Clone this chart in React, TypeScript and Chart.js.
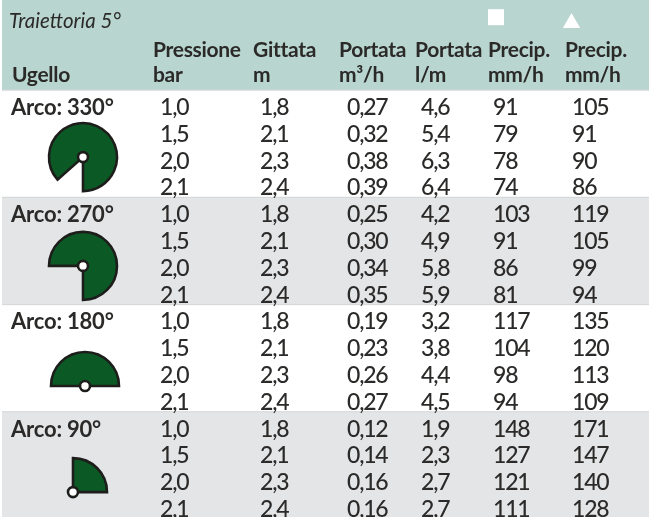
import React, { useEffect, useRef } from "react";
import { Chart, registerables, ArcElement } from "chart.js";

Chart.register(...registerables);

const arcLabels = ["Arco: 330°", "Arco: 270°", "Arco: 180°", "Arco: 90°"];
const arcSweep = [311.5, 270, 180, 90];
const arcStart = [138.5, 180, 180, -90];
const pressure = [1.0, 1.5, 2.0, 2.1, 1.0, 1.5, 2.0, 2.1, 1.0, 1.5, 2.0, 2.1, 1.0, 1.5, 2.0, 2.1];
const range = [1.8, 2.1, 2.3, 2.4, 1.8, 2.1, 2.3, 2.4, 1.8, 2.1, 2.3, 2.4, 1.8, 2.1, 2.3, 2.4];
const flowM3 = [0.27, 0.32, 0.38, 0.39, 0.25, 0.30, 0.34, 0.35, 0.19, 0.23, 0.26, 0.27, 0.12, 0.14, 0.16, 0.16];
const flowL = [4.6, 5.4, 6.3, 6.4, 4.2, 4.9, 5.8, 5.9, 3.2, 3.8, 4.4, 4.5, 1.9, 2.3, 2.7, 2.7];
const precipSquare = [91, 79, 78, 74, 103, 91, 86, 81, 117, 104, 98, 94, 148, 127, 121, 111];
const precipTriangle = [105, 91, 90, 86, 119, 105, 99, 94, 135, 120, 113, 109, 171, 147, 140, 128];
const headerTop = ["Pressione", "Gittata", "Portata", "Portata", "Precip.", "Precip."];
const headerUnits = ["bar", "m", "m³/h", "l/m", "mm/h", "mm/h"];

const FAMILY = "Lato, 'Noto Sans', sans-serif";
const TEXT = "#2b2a29";
const GREEN = "#0b5a25";
const HEADER_BG = "#b8d6cf";
const BAND_BG = "#e4e5e7";
const RULE = "#d8d9db";

const colX = [160, 260, 347, 421, 493, 572];
const headX = [153, 253, 339, 415, 488, 565];
const hubX = [83, 83, 85, 73];
const hubRow = [1.57, 5.63, 10.11, 14.07];
const groupTop = (g: number) => 4 * g - 0.93;
const Y_MIN = -4.291;
const Y_MAX = 15;

const dec = (d: number) => (v: number) => v.toFixed(d).replace(".", ",");
const numberColumn = (vals: number[], col: number, fmt: (v: number) => string) => ({
  type: "scatter",
  data: vals.map((_, i) => ({ x: colX[col], y: i })),
  tableText: vals.map(fmt),
  font: `500 23px ${FAMILY}`,
  spacing: -1.2,
  pointRadius: 0,
});

const tablePlugin = {
  id: "table",
  beforeDatasetsDraw(chart: any) {
    const { ctx, scales } = chart;
    const { x, y } = scales;
    ctx.save();
    const left = x.getPixelForValue(2);
    const right = x.getPixelForValue(649);
    const headBottom = y.getPixelForValue(groupTop(0));
    ctx.fillStyle = HEADER_BG;
    ctx.fillRect(left, 0, right - left, headBottom);
    arcLabels.forEach((_, g) => {
      const top = y.getPixelForValue(groupTop(g));
      const bottom = g < 3 ? y.getPixelForValue(groupTop(g + 1)) : y.getPixelForValue(Y_MAX);
      if (g % 2 === 1) {
        ctx.fillStyle = BAND_BG;
        ctx.fillRect(left, top, right - left, bottom - top);
      }
      ctx.fillStyle = RULE;
      ctx.fillRect(left, top - 0.5, right - left, 1.2);
    });
    ctx.restore();
    const hub = chart.getDatasetMeta(0).data;
    arcSweep.forEach((sweep, g) => {
      const start = (arcStart[g] * Math.PI) / 180;
      const circumference = (sweep * Math.PI) / 180;
      const arc: any = new (ArcElement as any)({
        x: hub[g].x,
        y: hub[g].y,
        startAngle: start,
        endAngle: start + circumference,
        circumference,
        innerRadius: 0,
        outerRadius: 34,
      });
      arc.options = {
        backgroundColor: GREEN,
        borderColor: "#1d1d1b",
        borderWidth: 2.6,
        borderAlign: "center",
        borderJoinStyle: "miter",
        borderRadius: 0,
        borderDash: [],
        borderDashOffset: 0,
        offset: 0,
        spacing: 0,
        circular: true,
      };
      arc.draw(ctx);
    });
  },
  afterDatasetsDraw(chart: any) {
    const { ctx } = chart;
    ctx.save();
    ctx.fillStyle = TEXT;
    ctx.textBaseline = "alphabetic";
    ctx.textAlign = "left";
    chart.data.datasets.forEach((ds: any, i: number) => {
      if (!ds.tableText) return;
      ctx.font = ds.font;
      (ctx as any).letterSpacing = `${ds.spacing || 0}px`;
      const pts = chart.getDatasetMeta(i).data;
      ds.tableText.forEach((t: string, j: number) => ctx.fillText(t, pts[j].x, pts[j].y));
    });
    ctx.restore();
  },
};

export default function App() {
  const ref = useRef<HTMLCanvasElement>(null);
  useEffect(() => {
    document.body.style.margin = "0";
    const headFont = `700 21px ${FAMILY}`;
    const chart = new Chart(ref.current as HTMLCanvasElement, {
      type: "scatter",
      data: {
        datasets: [
          {
            data: hubX.map((x, g) => ({ x, y: hubRow[g] })),
            pointStyle: "circle",
            pointRadius: 5,
            pointBackgroundColor: "#ffffff",
            pointBorderColor: "#1d1d1b",
            pointBorderWidth: 2.6,
          },
          {
            data: [{ x: 496, y: -3.65 }],
            pointStyle: "rect",
            pointRadius: 11.3,
            pointBackgroundColor: "#ffffff",
            pointBorderWidth: 0,
          },
          {
            data: [{ x: 571.5, y: -3.43 }],
            pointStyle: "triangle",
            pointRadius: 10,
            pointBackgroundColor: "#ffffff",
            pointBorderWidth: 0,
          },
          numberColumn(pressure, 0, dec(1)),
          numberColumn(range, 1, dec(1)),
          numberColumn(flowM3, 2, dec(2)),
          numberColumn(flowL, 3, dec(1)),
          numberColumn(precipSquare, 4, dec(0)),
          numberColumn(precipTriangle, 5, dec(0)),
          {
            data: arcLabels.map((_, g) => ({ x: 11, y: 4 * g })),
            tableText: arcLabels,
            font: `700 22px ${FAMILY}`,
            spacing: -0.2,
            pointRadius: 0,
          },
          {
            data: headerTop.map((_, c) => ({ x: headX[c], y: -2.164 })),
            tableText: headerTop,
            font: headFont,
            spacing: -0.3,
            pointRadius: 0,
          },
          {
            data: headerUnits.map((_, c) => ({ x: headX[c], y: -1.23 })),
            tableText: headerUnits,
            font: headFont,
            spacing: -0.3,
            pointRadius: 0,
          },
          {
            data: [{ x: 12, y: -1.23 }],
            tableText: ["Ugello"],
            font: headFont,
            spacing: -0.3,
            pointRadius: 0,
          },
          {
            data: [{ x: 9, y: -3.25 }],
            tableText: ["Traiettoria 5°"],
            font: `italic 400 20.5px ${FAMILY}`,
            spacing: 0,
            pointRadius: 0,
          },
        ] as any,
      },
      options: {
        responsive: false,
        animation: false,
        layout: { padding: 0, autoPadding: false },
        events: [],
        plugins: { legend: { display: false }, tooltip: { enabled: false } },
        scales: {
          x: { type: "linear", display: false, min: 0, max: 649 },
          y: { type: "linear", display: false, reverse: true, min: Y_MIN, max: Y_MAX },
        },
      },
      plugins: [tablePlugin],
    });
    return () => chart.destroy();
  }, []);
  return <canvas ref={ref} width={649} height={517} style={{ display: "block" }} />;
}
